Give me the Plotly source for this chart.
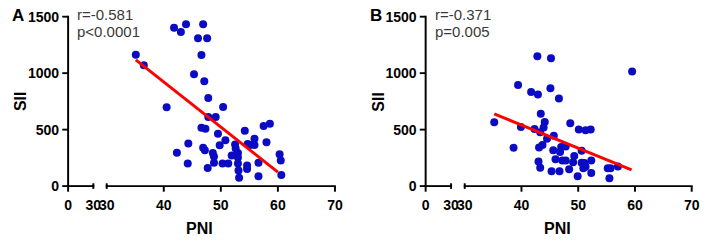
import plotly.graph_objects as go

# ---------------- data ----------------
pni_a = [35.1, 36.5, 40.5, 41.8, 43.0, 43.9, 42.3, 44.3, 44.2, 46.0, 47.6, 46.9, 46.6, 45.3,
         47.1, 47.8, 46.6, 47.3, 47.8, 49.1, 50.4, 49.5, 46.9, 47.2, 47.7, 48.6, 48.8, 48.8,
         49.8, 50.8, 50.3, 51.3, 51.9, 52.5, 52.6, 53.0, 53.0, 53.0, 53.1, 53.2, 54.2, 54.7,
         55.1, 55.9, 55.9, 54.6, 54.6, 56.6, 56.6, 57.5, 58.6, 58.0, 60.3, 60.5, 60.6]
sii_a = [1163, 1070, 698, 1401, 1365, 1434, 295, 378, 201, 1310, 1310, 1434, 1161, 990,
         929, 780, 516, 507, 612, 612, 700, 463, 339, 317, 160, 292, 262, 207,
         361, 405, 201, 201, 270, 369, 334, 292, 254, 201, 138, 74, 491, 372,
         364, 419, 364, 182, 152, 207, 88, 532, 551, 389, 281, 226, 99]

pni_b = [35.2, 38.6, 39.4, 39.9, 41.7, 42.3, 42.9, 42.8, 45.2, 45.1, 46.6, 43.4, 44.1, 43.9,
         43.3, 43.1, 43.7, 44.5, 45.7, 43.0, 43.3, 45.3, 45.6, 46.0, 46.7, 46.8, 47.0, 47.2,
         47.8, 47.8, 48.6, 48.4, 49.1, 49.3, 50.1, 50.6, 50.6, 49.9, 51.1, 51.3, 50.9, 52.2,
         52.3, 52.3, 51.3, 55.2, 55.7, 57.0, 55.5, 59.5]
sii_b = [565, 339, 896, 524, 833, 505, 811, 1150, 1133, 866, 775, 640, 568, 518,
         477, 342, 364, 419, 446, 218, 163, 132, 317, 237, 132, 303, 347, 226,
         226, 350, 557, 149, 212, 267, 502, 314, 207, 88, 204, 171, 157, 502,
         226, 116, 495, 157, 157, 174, 69, 1015]

fit_a_x = [35.1, 60.0]
fit_a_y = [1117, 124]
fit_b_x = [35.2, 59.4]
fit_b_y = [640, 143]

stats_a = ["r=-0.581", "p&lt;0.0001"]
stats_b = ["r=-0.371", "p=0.005"]
panel_labels = ["A", "B"]

y_ticks = [0, 500, 1000, 1500]
x_ticks_low = [0, 30]
x_ticks_high = [30, 40, 50, 60, 70]

# ---------------- layout helpers ----------------
W, H = 708, 242
def px(v):
    return v / W
def py(v):
    return (H - v) / H

BLUE = "#0b0bc4"
RED = "#ff0000"
INK = "#000000"
FONT = "Arial, Liberation Sans, sans-serif"
tickfont = dict(family=FONT, size=14, color=INK, weight="bold")

Y_AXIS_PX = 190.7   # pixel row of the x axis line
Y_TOP_PX = 9.3
Y_MAX = 1500
LW = 2.0

fig = go.Figure()

panels = [
    dict(x0=61.5, brk1=87.3, brk2=101.0, x1=334.5, xa_low="x", xa_high="x2", ya="y",
         pni=pni_a, sii=sii_a, fx=fit_a_x, fy=fit_a_y, stats=stats_a, label=panel_labels[0]),
    dict(x0=427.3, brk1=453.3, brk2=467.3, x1=699.5, xa_low="x3", xa_high="x4", ya="y2",
         pni=pni_b, sii=sii_b, fx=fit_b_x, fy=fit_b_y, stats=stats_b, label=panel_labels[1]),
]

ydom = [py(Y_AXIS_PX), py(Y_TOP_PX)]
annotations = []
shapes = []

def axname(ref):
    return "xaxis" if ref == "x" else "xaxis" + ref[1:]

def yaxname(ref):
    return "yaxis" if ref == "y" else "yaxis" + ref[1:]

def bar(xa, ya, xb, yb):
    """filled black rectangle in pixel coordinates (axis lines and tick marks)"""
    shapes.append(dict(type="rect", xref="paper", yref="paper", layer="above",
                       x0=px(min(xa, xb)), x1=px(max(xa, xb)),
                       y0=py(max(ya, yb)), y1=py(min(ya, yb)),
                       fillcolor=INK, line=dict(width=0)))

for p in panels:
    # placeholder so the low-segment subplot exists
    fig.add_trace(go.Scatter(x=[None], y=[None], mode="markers", xaxis=p["xa_low"], yaxis=p["ya"],
                             showlegend=False, hoverinfo="skip"))
    fig.add_trace(go.Scatter(x=p["pni"], y=p["sii"], mode="markers",
                             marker=dict(color=BLUE, size=8),
                             xaxis=p["xa_high"], yaxis=p["ya"], showlegend=False, cliponaxis=False))
    fig.add_trace(go.Scatter(x=p["fx"], y=p["fy"], mode="lines",
                             line=dict(color=RED, width=3),
                             xaxis=p["xa_high"], yaxis=p["ya"], showlegend=False, cliponaxis=False))

    common_x = dict(showline=False, ticks="", tickfont=tickfont, showgrid=False, zeroline=False,
                    anchor=p["ya"], ticklabelstandoff=9)
    fig.update_layout({
        axname(p["xa_low"]): dict(common_x, domain=[px(p["x0"]), px(p["brk1"])], range=[0, 30],
                                  tickvals=x_ticks_low, ticktext=[str(v) for v in x_ticks_low]),
        axname(p["xa_high"]): dict(common_x, domain=[px(p["brk2"]), px(p["x1"])], range=[30, 70],
                                   tickvals=x_ticks_high, ticktext=[str(v) for v in x_ticks_high]),
        yaxname(p["ya"]): dict(domain=ydom, range=[0, Y_MAX], anchor=p["xa_low"], showline=False,
                               ticks="", ticklabelstandoff=8, tickvals=y_ticks,
                               tickfont=tickfont, showgrid=False, zeroline=False),
    })

    def xlow(v, p=p):
        return p["x0"] + (v - 0) / 30 * (p["brk1"] - p["x0"])
    def xhigh(v, p=p):
        return p["brk2"] + (v - 30) / 40 * (p["x1"] - p["brk2"])
    def ypix(v):
        return Y_AXIS_PX - v / Y_MAX * (Y_AXIS_PX - Y_TOP_PX)

    h = LW / 2
    # axis lines
    bar(p["x0"] - h, ypix(Y_MAX) - h, p["x0"] + h, ypix(0) + h)
    bar(xlow(0) - h, Y_AXIS_PX - h, xlow(30) + h, Y_AXIS_PX + h)
    bar(xhigh(30) - h, Y_AXIS_PX - h, xhigh(70) + h, Y_AXIS_PX + h)
    # y ticks
    for v in y_ticks:
        bar(p["x0"] - 6, ypix(v) - h, p["x0"], ypix(v) + h)
    # x ticks (break ends cross the axis)
    bar(xlow(x_ticks_low[0]) - h, Y_AXIS_PX, xlow(x_ticks_low[0]) + h, Y_AXIS_PX + 6)
    bar(xlow(x_ticks_low[-1]) - h, Y_AXIS_PX - 3, xlow(x_ticks_low[-1]) + h, Y_AXIS_PX + 3)
    bar(xhigh(x_ticks_high[0]) - h, Y_AXIS_PX - 3, xhigh(x_ticks_high[0]) + h, Y_AXIS_PX + 3)
    for v in x_ticks_high[1:]:
        bar(xhigh(v) - h, Y_AXIS_PX, xhigh(v) + h, Y_AXIS_PX + 6)

    off = p["x0"] - 61.5
    annotations += [
        dict(text=p["label"], x=px(2.5 + off), y=py(8), xref="paper", yref="paper",
             xanchor="left", yanchor="middle", showarrow=False,
             font=dict(family=FONT, size=17, color=INK, weight="bold")),
        dict(text=p["stats"][0], x=px(69 + off), y=py(7), xref="paper", yref="paper",
             xanchor="left", yanchor="middle", showarrow=False,
             font=dict(family=FONT, size=15, color="#3a3a3a")),
        dict(text=p["stats"][1], x=px(69 + off), y=py(25), xref="paper", yref="paper",
             xanchor="left", yanchor="middle", showarrow=False,
             font=dict(family=FONT, size=15, color="#3a3a3a")),
        dict(text="SII", x=px(13 + off), y=py(100), xref="paper", yref="paper",
             xanchor="center", yanchor="middle", textangle=-90, showarrow=False,
             font=dict(family=FONT, size=16, color=INK, weight="bold")),
        dict(text="PNI", x=px(196 + off), y=py(236), xref="paper", yref="paper",
             xanchor="center", yanchor="middle", showarrow=False,
             font=dict(family=FONT, size=16, color=INK, weight="bold")),
    ]

fig.update_layout(width=W, height=H, margin=dict(l=0, r=0, t=0, b=0),
                  paper_bgcolor="white", plot_bgcolor="white",
                  shapes=shapes, annotations=annotations, showlegend=False)

fig.write_html("out.html", config={"displayModeBar": False, "staticPlot": True},
               post_script="document.body.style.margin='0';")
